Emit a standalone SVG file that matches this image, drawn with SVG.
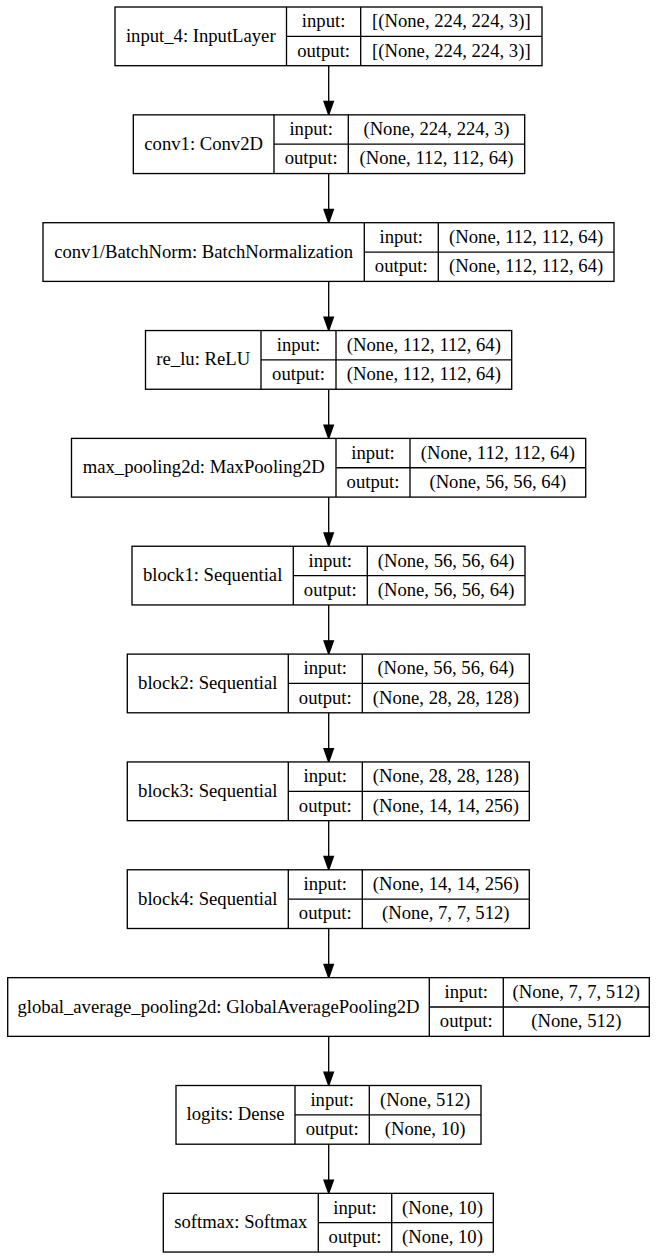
<svg xmlns="http://www.w3.org/2000/svg" width="658" height="1259" viewBox="0 0 658 1259">
<style>
.box{fill:#fff;stroke:#000;stroke-width:1.33}
.ln{stroke:#000;stroke-width:1.33;fill:none}
text{font-family:"Liberation Serif","Times New Roman",serif;font-size:18.67px;fill:#000;text-anchor:middle}
.edge{stroke:#000;stroke-width:1.33;fill:none}
.head{fill:#000;stroke:#000;stroke-width:1.33}
</style>
<rect x="0" y="0" width="658" height="1259" fill="#fff"/>
<g id="connectors">
<line class="edge" x1="328.7" y1="65.7" x2="328.7" y2="102"/><polygon class="head" points="324,101.5 333.4,101.5 328.7,114.85"/>
<line class="edge" x1="328.7" y1="173.55" x2="328.7" y2="209.8"/><polygon class="head" points="324,209.4 333.4,209.4 328.7,222.7"/>
<line class="edge" x1="328.7" y1="281.4" x2="328.7" y2="317.7"/><polygon class="head" points="324,317.25 333.4,317.25 328.7,330.55"/>
<line class="edge" x1="328.7" y1="389.25" x2="328.7" y2="425.5"/><polygon class="head" points="324,425.1 333.4,425.1 328.7,438.4"/>
<line class="edge" x1="328.7" y1="497.1" x2="328.7" y2="533.4"/><polygon class="head" points="324,532.95 333.4,532.95 328.7,546.25"/>
<line class="edge" x1="328.7" y1="604.95" x2="328.7" y2="641.2"/><polygon class="head" points="324,640.8 333.4,640.8 328.7,654.1"/>
<line class="edge" x1="328.7" y1="712.8" x2="328.7" y2="749.1"/><polygon class="head" points="324,748.65 333.4,748.65 328.7,761.95"/>
<line class="edge" x1="328.7" y1="820.65" x2="328.7" y2="856.9"/><polygon class="head" points="324,856.5 333.4,856.5 328.7,869.8"/>
<line class="edge" x1="328.7" y1="928.5" x2="328.7" y2="964.8"/><polygon class="head" points="324,964.35 333.4,964.35 328.7,977.65"/>
<line class="edge" x1="328.7" y1="1036.35" x2="328.7" y2="1072.6"/><polygon class="head" points="324,1072.2 333.4,1072.2 328.7,1085.5"/>
<line class="edge" x1="328.7" y1="1144.2" x2="328.7" y2="1180.5"/><polygon class="head" points="324,1180.05 333.4,1180.05 328.7,1193.35"/>
</g>
<g id="node_input_4" transform="translate(0,7)">
<rect class="box" x="115" y="0" width="427" height="58.7"/>
<line class="ln" x1="286.5" y1="0" x2="286.5" y2="58.7"/><line class="ln" x1="360.7" y1="0" x2="360.7" y2="58.7"/><line class="ln" x1="286.5" y1="29.35" x2="542" y2="29.35"/>
<text x="200.75" y="34.95">input_4: InputLayer</text>
<text x="323.6" y="20.3">input:</text><text x="323.6" y="49.6">output:</text>
<text x="451.35" y="20.3">[(None, 224, 224, 3)]</text><text x="451.35" y="49.6">[(None, 224, 224, 3)]</text>
</g>
<g id="node_conv1" transform="translate(0,114.85)">
<rect class="box" x="133.3" y="0" width="391.4" height="58.7"/>
<line class="ln" x1="274" y1="0" x2="274" y2="58.7"/><line class="ln" x1="348.3" y1="0" x2="348.3" y2="58.7"/><line class="ln" x1="274" y1="29.35" x2="524.7" y2="29.35"/>
<text x="203.65" y="34.95">conv1: Conv2D</text>
<text x="311.15" y="20.3">input:</text><text x="311.15" y="49.6">output:</text>
<text x="436.5" y="20.3">(None, 224, 224, 3)</text><text x="436.5" y="49.6">(None, 112, 112, 64)</text>
</g>
<g id="node_bn" transform="translate(0,222.7)">
<rect class="box" x="43" y="0" width="571" height="58.7"/>
<line class="ln" x1="364.3" y1="0" x2="364.3" y2="58.7"/><line class="ln" x1="438.3" y1="0" x2="438.3" y2="58.7"/><line class="ln" x1="364.3" y1="29.35" x2="614" y2="29.35"/>
<text x="203.65" y="34.95">conv1/BatchNorm: BatchNormalization</text>
<text x="401.3" y="20.3">input:</text><text x="401.3" y="49.6">output:</text>
<text x="526.15" y="20.3">(None, 112, 112, 64)</text><text x="526.15" y="49.6">(None, 112, 112, 64)</text>
</g>
<g id="node_re_lu" transform="translate(0,330.55)">
<rect class="box" x="145.5" y="0" width="366.2" height="58.7"/>
<line class="ln" x1="261" y1="0" x2="261" y2="58.7"/><line class="ln" x1="336" y1="0" x2="336" y2="58.7"/><line class="ln" x1="261" y1="29.35" x2="511.7" y2="29.35"/>
<text x="203.25" y="34.95">re_lu: ReLU</text>
<text x="298.5" y="20.3">input:</text><text x="298.5" y="49.6">output:</text>
<text x="423.85" y="20.3">(None, 112, 112, 64)</text><text x="423.85" y="49.6">(None, 112, 112, 64)</text>
</g>
<g id="node_max_pooling2d" transform="translate(0,438.4)">
<rect class="box" x="71.5" y="0" width="514.2" height="58.7"/>
<line class="ln" x1="336" y1="0" x2="336" y2="58.7"/><line class="ln" x1="410" y1="0" x2="410" y2="58.7"/><line class="ln" x1="336" y1="29.35" x2="585.7" y2="29.35"/>
<text x="203.75" y="34.95">max_pooling2d: MaxPooling2D</text>
<text x="373" y="20.3">input:</text><text x="373" y="49.6">output:</text>
<text x="497.85" y="20.3">(None, 112, 112, 64)</text><text x="497.85" y="49.6">(None, 56, 56, 64)</text>
</g>
<g id="node_block1" transform="translate(0,546.25)">
<rect class="box" x="132" y="0" width="393" height="58.7"/>
<line class="ln" x1="293.3" y1="0" x2="293.3" y2="58.7"/><line class="ln" x1="367.3" y1="0" x2="367.3" y2="58.7"/><line class="ln" x1="293.3" y1="29.35" x2="525" y2="29.35"/>
<text x="212.65" y="34.95">block1: Sequential</text>
<text x="330.3" y="20.3">input:</text><text x="330.3" y="49.6">output:</text>
<text x="446.15" y="20.3">(None, 56, 56, 64)</text><text x="446.15" y="49.6">(None, 56, 56, 64)</text>
</g>
<g id="node_block2" transform="translate(0,654.1)">
<rect class="box" x="127.3" y="0" width="402" height="58.7"/>
<line class="ln" x1="288.3" y1="0" x2="288.3" y2="58.7"/><line class="ln" x1="362.3" y1="0" x2="362.3" y2="58.7"/><line class="ln" x1="288.3" y1="29.35" x2="529.3" y2="29.35"/>
<text x="207.8" y="34.95">block2: Sequential</text>
<text x="325.3" y="20.3">input:</text><text x="325.3" y="49.6">output:</text>
<text x="445.8" y="20.3">(None, 56, 56, 64)</text><text x="445.8" y="49.6">(None, 28, 28, 128)</text>
</g>
<g id="node_block3" transform="translate(0,761.95)">
<rect class="box" x="127.3" y="0" width="402" height="58.7"/>
<line class="ln" x1="288.3" y1="0" x2="288.3" y2="58.7"/><line class="ln" x1="362.3" y1="0" x2="362.3" y2="58.7"/><line class="ln" x1="288.3" y1="29.35" x2="529.3" y2="29.35"/>
<text x="207.8" y="34.95">block3: Sequential</text>
<text x="325.3" y="20.3">input:</text><text x="325.3" y="49.6">output:</text>
<text x="445.8" y="20.3">(None, 28, 28, 128)</text><text x="445.8" y="49.6">(None, 14, 14, 256)</text>
</g>
<g id="node_block4" transform="translate(0,869.8)">
<rect class="box" x="127.3" y="0" width="402" height="58.7"/>
<line class="ln" x1="288.3" y1="0" x2="288.3" y2="58.7"/><line class="ln" x1="362.3" y1="0" x2="362.3" y2="58.7"/><line class="ln" x1="288.3" y1="29.35" x2="529.3" y2="29.35"/>
<text x="207.8" y="34.95">block4: Sequential</text>
<text x="325.3" y="20.3">input:</text><text x="325.3" y="49.6">output:</text>
<text x="445.8" y="20.3">(None, 14, 14, 256)</text><text x="445.8" y="49.6">(None, 7, 7, 512)</text>
</g>
<g id="node_global_average_pooling2d" transform="translate(0,977.65)">
<rect class="box" x="7.7" y="0" width="641.6" height="58.7"/>
<line class="ln" x1="429.3" y1="0" x2="429.3" y2="58.7"/><line class="ln" x1="503.3" y1="0" x2="503.3" y2="58.7"/><line class="ln" x1="429.3" y1="29.35" x2="649.3" y2="29.35"/>
<text x="218.5" y="34.95">global_average_pooling2d: GlobalAveragePooling2D</text>
<text x="466.3" y="20.3">input:</text><text x="466.3" y="49.6">output:</text>
<text x="576.3" y="20.3">(None, 7, 7, 512)</text><text x="576.3" y="49.6">(None, 512)</text>
</g>
<g id="node_logits" transform="translate(0,1085.5)">
<rect class="box" x="176" y="0" width="305" height="58.7"/>
<line class="ln" x1="295" y1="0" x2="295" y2="58.7"/><line class="ln" x1="369.3" y1="0" x2="369.3" y2="58.7"/><line class="ln" x1="295" y1="29.35" x2="481" y2="29.35"/>
<text x="235.5" y="34.95">logits: Dense</text>
<text x="332.15" y="20.3">input:</text><text x="332.15" y="49.6">output:</text>
<text x="425.15" y="20.3">(None, 512)</text><text x="425.15" y="49.6">(None, 10)</text>
</g>
<g id="node_softmax" transform="translate(0,1193.35)">
<rect class="box" x="163.3" y="0" width="330" height="58.7"/>
<line class="ln" x1="318.3" y1="0" x2="318.3" y2="58.7"/><line class="ln" x1="391.7" y1="0" x2="391.7" y2="58.7"/><line class="ln" x1="318.3" y1="29.35" x2="493.3" y2="29.35"/>
<text x="240.8" y="34.95">softmax: Softmax</text>
<text x="355" y="20.3">input:</text><text x="355" y="49.6">output:</text>
<text x="442.5" y="20.3">(None, 10)</text><text x="442.5" y="49.6">(None, 10)</text>
</g>
</svg>
